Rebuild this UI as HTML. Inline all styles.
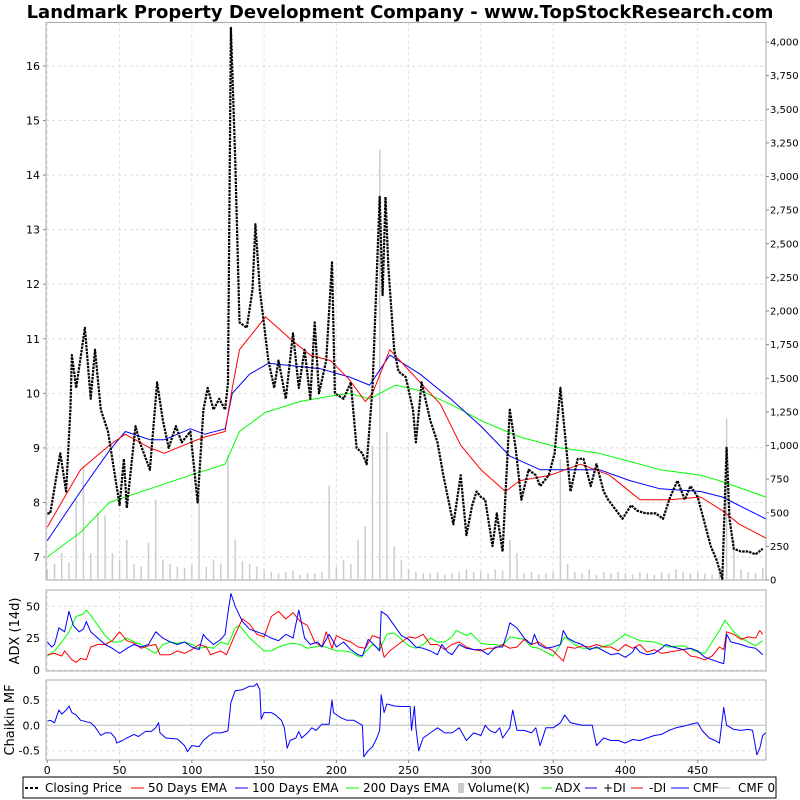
<!DOCTYPE html>
<html><head><meta charset="utf-8"><style>
html,body{margin:0;padding:0;background:#fff;}
svg{display:block;font-family:"DejaVu Sans","Liberation Sans",sans-serif;}
</style></head><body>
<svg id="chart" width="800" height="800" viewBox="0 0 800 800" xmlns="http://www.w3.org/2000/svg">
<rect x="0" y="0" width="800" height="800" fill="#fff"/>
<text x="400" y="18" text-anchor="middle" font-size="18" font-weight="bold" fill="#000">Landmark Property Development Company - www.TopStockResearch.com</text>
<g id="main"></g><g id="adx"></g><g id="cmf"></g><g id="xaxis"></g>
<g id="legend">
<rect x="23" y="777" width="753" height="21" fill="#fff" stroke="#000" stroke-width="1"/>
<line x1="25" y1="788" x2="40" y2="788" stroke="#000" stroke-width="2" stroke-dasharray="3,2"/>
<text x="45" y="792" font-size="12">Closing Price</text>
<line x1="131" y1="788" x2="144" y2="788" stroke="#f00"/>
<text x="148" y="792" font-size="12">50 Days EMA</text>
<line x1="235" y1="788" x2="248" y2="788" stroke="#00f"/>
<text x="252" y="792" font-size="12">100 Days EMA</text>
<line x1="346" y1="788" x2="359" y2="788" stroke="#0f0"/>
<text x="363" y="792" font-size="12">200 Days EMA</text>
<rect x="458" y="783" width="6" height="10" fill="#ccc"/>
<text x="468" y="792" font-size="12">Volume(K)</text>
<line x1="541" y1="788" x2="552" y2="788" stroke="#0f0"/>
<text x="555" y="792" font-size="12">ADX</text>
<line x1="585" y1="788" x2="597" y2="788" stroke="#00f"/>
<text x="603" y="792" font-size="12">+DI</text>
<line x1="631" y1="788" x2="643" y2="788" stroke="#f00"/>
<text x="649" y="792" font-size="12">-DI</text>
<line x1="671" y1="788" x2="689" y2="788" stroke="#00f"/>
<text x="693" y="792" font-size="12">CMF</text>
<line x1="717" y1="788" x2="730" y2="788" stroke="#bbb"/>
<text x="738" y="792" font-size="12">CMF 0</text>
</g>
</svg>
<script>
const priceDays=[0,2,9,13,16,17,20,26,30,33,37,42,50,53,55,61,64,71,76,80,84,89,93,99,104,108,111,115,119,123,125,127,130,133,138,142,144,147,153,157,160,165,170,174,178,182,185,188,193,197,199,205,210,214,218,221,225,230,232,234,236,240,243,248,253,255,259,265,270,274,281,286,290,294,297,300,303,308,311,315,320,324,328,333,338,341,347,351,355,358,362,367,371,376,380,385,388,398,404,408,414,421,426,431,436,441,445,450,454,459,463,467,470,472,475,480,485,490,495];
const priceVals=[7.8,7.8,8.9,8.2,9.7,10.7,10.1,11.2,9.9,10.8,9.7,9.3,7.95,8.8,7.9,9.4,9.1,8.6,10.2,9.5,9.0,9.4,9.1,9.3,8.0,9.7,10.1,9.7,9.9,9.7,10.2,16.7,14.3,11.3,11.2,11.9,13.1,11.9,10.6,10.1,10.6,9.9,11.1,10.1,10.8,9.9,11.3,10.0,10.6,12.4,10.0,9.9,10.2,9.0,8.9,8.7,10.1,13.6,11.8,13.6,12.3,10.8,10.4,10.3,9.7,9.1,10.2,9.5,9.1,8.5,7.6,8.5,7.4,7.95,8.2,8.1,8.05,7.2,7.8,7.1,9.7,9.0,8.05,8.6,8.5,8.3,8.5,8.9,10.1,9.3,8.2,8.8,8.8,8.3,8.7,8.2,8.05,7.7,7.95,7.85,7.8,7.8,7.7,8.1,8.4,8.05,8.3,8.1,7.7,7.2,6.95,6.6,9.0,7.7,7.15,7.1,7.1,7.05,7.15];
const ema50Days=[0,23,43,54,71,81,99,109,123,128,133,151,168,182,196,209,220,225,237,251,272,286,300,317,327,348,369,389,410,431,452,467,479,497];
const ema50Vals=[7.55,8.6,9.05,9.25,9.0,8.9,9.1,9.2,9.3,10.1,10.8,11.4,11.0,10.7,10.6,10.25,9.85,10.0,10.8,10.4,9.8,9.05,8.6,8.2,8.4,8.5,8.7,8.5,8.05,8.05,8.1,7.85,7.6,7.35];
const ema100Days=[0,23,43,54,71,81,99,109,123,128,140,153,171,189,209,223,237,258,279,300,320,341,362,382,403,424,452,467,497];
const ema100Vals=[7.3,8.2,8.95,9.3,9.15,9.15,9.35,9.25,9.35,10.0,10.35,10.55,10.5,10.45,10.3,10.15,10.7,10.35,9.9,9.4,8.85,8.6,8.6,8.6,8.4,8.25,8.2,8.1,7.7];
const ema200Days=[0,23,43,71,99,123,133,151,175,196,209,223,241,258,279,300,327,355,382,403,424,452,465,497];
const ema200Vals=[7.0,7.45,8.0,8.25,8.5,8.7,9.3,9.65,9.85,9.95,10.0,9.9,10.15,10.05,9.8,9.5,9.2,9.0,8.9,8.75,8.6,8.5,8.4,8.1];
const volDays=[0,5,10,15,20,25,30,35,40,45,50,55,60,65,70,75,80,85,90,95,100,105,110,115,120,125,130,135,140,145,150,155,160,165,170,175,180,185,190,195,200,205,210,215,220,225,230,235,240,245,250,255,260,265,270,275,280,285,290,295,300,305,310,315,320,325,330,335,340,345,350,355,360,365,370,375,380,385,390,395,400,405,410,415,420,425,430,435,440,445,450,455,460,465,470,475,480,485,490,495];
const volVals=[80,120,200,130,600,850,200,500,480,200,150,300,120,100,280,600,150,120,100,90,110,650,100,150,120,930,300,140,120,100,80,60,50,60,70,40,50,50,60,700,100,150,120,300,400,1000,3200,1100,250,150,80,60,50,50,60,40,50,60,80,60,60,50,80,70,300,200,50,60,40,50,60,900,120,60,50,80,40,60,50,60,50,40,60,50,40,60,50,80,60,50,60,50,40,80,1200,300,80,60,50,90];
const adxDays=[0,5,10,15,20,25,27,30,35,40,45,50,55,60,65,70,75,80,85,90,95,100,105,110,115,120,125,130,133,140,145,150,155,160,165,170,175,180,185,190,195,200,205,210,215,217,220,225,230,235,240,245,250,255,260,265,270,275,280,283,290,293,300,305,310,315,320,330,335,340,350,355,358,365,370,380,390,400,410,420,430,440,450,455,460,465,469,475,480,490,495];
const adxVals=[11,15,22,30,42,44,47,43,35,27,22,22,25,22,20,16,13,20,22,21,22,20,17,18,17,22,20,33,35,25,20,15,15,18,20,21,20,17,18,19,17,15,15,14,11,10,14,20,16,28,29,24,19,17,20,25,22,22,26,31,27,29,21,20,20,19,26,24,18,17,11,20,26,20,17,17,20,28,23,22,18,19,14,13,22,31,39,30,25,19,23];
const pdiDays=[0,3,5,8,12,15,18,22,25,27,30,35,40,45,50,55,60,65,70,75,80,85,90,95,100,105,108,110,115,120,123,125,127,130,135,140,145,150,155,160,165,170,174,178,182,187,190,195,200,205,210,215,218,222,226,230,231,235,240,245,250,255,260,265,270,273,277,280,285,290,295,300,305,310,315,318,320,325,330,335,337,340,345,350,355,357,360,365,370,375,380,385,390,395,400,405,407,410,415,420,425,428,433,440,445,450,455,460,465,468,470,473,480,485,490,495];
const pdiVals=[22,18,20,33,30,46,35,30,32,38,30,25,20,17,13,17,20,18,20,30,25,22,20,22,18,16,28,25,20,24,28,45,60,50,38,32,30,28,25,23,28,25,47,25,20,22,18,28,18,22,16,12,11,24,20,15,46,43,35,27,24,18,17,15,12,20,14,12,20,17,16,16,12,18,18,28,37,33,25,20,28,20,17,18,20,31,25,22,20,16,18,15,12,13,10,14,18,14,12,13,17,20,18,16,17,15,10,8,6,5,28,22,20,18,17,12];
const mdiDays=[0,5,10,12,17,20,23,27,30,35,40,45,50,55,60,65,70,75,78,85,90,95,100,105,110,113,120,124,130,135,140,145,150,155,160,165,170,175,180,185,190,193,197,200,205,210,215,220,225,230,233,237,245,250,255,260,265,270,275,280,285,290,295,300,305,310,315,320,325,330,335,340,345,350,357,360,365,370,375,380,385,390,395,400,405,410,415,420,425,430,440,445,450,455,460,465,468,470,475,480,485,490,493,495];
const mdiVals=[12,13,11,15,8,6,9,8,18,20,20,23,30,23,21,17,19,20,12,12,15,13,16,20,18,12,15,12,28,40,36,28,26,42,46,40,45,38,35,22,18,30,17,27,24,22,18,17,27,25,10,15,22,26,25,28,20,20,16,20,22,18,16,15,17,17,20,17,18,24,20,22,18,15,7,18,17,19,18,20,18,18,15,20,17,20,14,16,13,14,16,11,10,8,11,18,16,30,28,24,26,25,31,28];
const cmfDays=[0,2,5,8,10,13,15,17,20,23,27,30,33,37,40,44,47,48,52,55,60,63,68,72,75,77,78,82,90,95,97,100,105,108,112,115,120,124,125,127,130,135,140,143,145,147,148,150,155,158,162,164,166,168,172,174,176,180,183,186,190,195,197,198,203,207,212,215,218,219,222,225,228,230,231,233,235,240,245,250,251,252,254,255,257,260,265,270,275,280,285,290,295,300,303,306,310,313,315,320,322,325,330,335,338,341,345,350,355,358,362,370,377,380,385,390,395,400,405,410,415,420,425,430,435,440,445,450,453,458,462,465,468,470,475,480,485,488,491,493,495,497];
const cmfVals=[0.08,0.1,0.05,0.3,0.22,0.3,0.38,0.25,0.2,0.1,0.07,0.05,-0.03,-0.2,-0.15,-0.15,-0.25,-0.35,-0.3,-0.25,-0.18,-0.22,-0.12,-0.12,-0.05,0.05,-0.15,-0.25,-0.27,-0.4,-0.52,-0.4,-0.42,-0.3,-0.2,-0.15,-0.15,-0.12,-0.1,0.45,0.68,0.7,0.77,0.77,0.82,0.7,0.12,0.25,0.25,0.2,0.1,-0.05,-0.45,-0.3,-0.25,-0.12,-0.25,-0.15,-0.05,-0.1,0.02,0.02,0.5,0.25,0.15,0.1,0.1,0.05,0.0,-0.62,-0.5,-0.42,-0.25,-0.1,0.6,0.25,0.42,0.38,0.37,0.37,0.37,-0.1,0.37,-0.05,-0.5,-0.25,-0.15,-0.05,-0.15,-0.15,-0.05,-0.3,-0.15,-0.2,0.0,-0.1,-0.15,-0.05,-0.25,-0.05,0.3,-0.1,-0.1,-0.15,-0.05,-0.4,-0.05,-0.05,0.05,0.2,0.05,0.0,0.0,-0.4,-0.25,-0.3,-0.3,-0.35,-0.28,-0.3,-0.25,-0.2,-0.18,-0.1,-0.05,-0.02,0.02,0.05,-0.1,-0.25,-0.3,-0.35,0.35,0.0,-0.08,-0.1,-0.08,-0.1,-0.58,-0.45,-0.2,-0.15];
const xTicks=[0,50,100,150,200,250,300,350,400,450];
const priceTicks=[7,8,9,10,11,12,13,14,15,16];
const volTicks=[0,250,500,750,1000,1250,1500,1750,2000,2250,2500,2750,3000,3250,3500,3750,4000];
const adxTicks=[0,25,50];
const cmfTicks=[-0.5,0,0.5];

const NS='http://www.w3.org/2000/svg';
const L=46,R=766;
const X=d=>47.3+d*1.4453;
const Yp=p=>557-(p-7)*54.56;
const Yv=v=>580-v*0.1345;
const Ya=v=>670-v*1.275;
const Yc=v=>725.3-v*50.8;
function mk(parent,tag,attrs){const e=document.createElementNS(NS,tag);for(const k in attrs)e.setAttribute(k,attrs[k]);parent.appendChild(e);return e;}
function path(days,vals,yf){return days.map((d,i)=>(i?'L':'M')+X(d).toFixed(1)+','+yf(vals[i]).toFixed(1)).join('');}

const main=document.getElementById('main');
const adx=document.getElementById('adx');
const cmf=document.getElementById('cmf');
const xa=document.getElementById('xaxis');

function panel(g,top,bot,name){
  const r=mk(g,'rect',{x:L,y:top,width:R-L,height:bot-top,fill:'#fff',stroke:'#aaa'});
  
  
  xTicks.forEach(t=>{const l=mk(g,'line',{x1:X(t),x2:X(t),y1:top,y2:bot,stroke:'#ddd','stroke-dasharray':'3,3'});
    
    });
}
panel(main,22.5,580,'price-panel');
panel(adx,590,671,'adx-panel');
panel(cmf,680,760,'cmf-panel');

priceTicks.forEach(t=>{
  const l=mk(main,'line',{x1:L,x2:R,y1:Yp(t),y2:Yp(t),stroke:'#ddd','stroke-dasharray':'3,3'});
  
  
  const tx=mk(main,'text',{x:40,y:Yp(t)+4,'text-anchor':'end','font-size':11});
  tx.textContent=t;
  
  
  mk(main,'line',{x1:L-3,x2:L,y1:Yp(t),y2:Yp(t),stroke:'#888'});
});
volTicks.forEach(t=>{
  const tx=mk(main,'text',{x:770,y:Yv(t)+3.5,'font-size':10});
  tx.textContent=t.toLocaleString('en-US');
  
  
  mk(main,'line',{x1:R,x2:R+3,y1:Yv(t),y2:Yv(t),stroke:'#888'});
});
volDays.forEach((d,i)=>{
  const b=mk(main,'rect',{x:X(d)-0.75,y:Yv(volVals[i]),width:1.5,height:580-Yv(volVals[i]),fill:'#ccc'});
  
  
});
function line(g,days,vals,yf,color,w,name,dash){
  const p=mk(g,'path',{d:path(days,vals,yf),fill:'none',stroke:color,'stroke-width':w,'stroke-linejoin':'round'});
  if(dash)p.setAttribute('stroke-dasharray',dash);
  
  
}
line(main,ema200Days,ema200Vals,Yp,'#0f0',1,'ema200-line');
line(main,ema100Days,ema100Vals,Yp,'#00f',1,'ema100-line');
line(main,ema50Days,ema50Vals,Yp,'#f00',1,'ema50-line');
line(main,priceDays,priceVals,Yp,'#000',2.2,'closing-price-line','2.5,1');

adxTicks.forEach(t=>{
  const l=mk(adx,'line',{x1:L,x2:R,y1:Ya(t),y2:Ya(t),stroke:'#ddd','stroke-dasharray':'3,3'});
  
  
  const tx=mk(adx,'text',{x:40,y:Ya(t)+4,'text-anchor':'end','font-size':11});
  tx.textContent=t;
  
  
});
line(adx,adxDays,adxVals,Ya,'#0f0',1,'adx-line');
line(adx,mdiDays,mdiVals,Ya,'#f00',1,'minus-di-line');
line(adx,pdiDays,pdiVals,Ya,'#00f',1,'plus-di-line');
const at=mk(adx,'text',{x:0,y:0,'font-size':13,'text-anchor':'middle',transform:'translate(19,631) rotate(-90)'});
at.textContent='ADX (14d)';



cmfTicks.forEach(t=>{
  const l=mk(cmf,'line',t===0?{x1:L,x2:R,y1:Yc(t),y2:Yc(t),stroke:'#bbb'}:{x1:L,x2:R,y1:Yc(t),y2:Yc(t),stroke:'#ddd','stroke-dasharray':'3,3'});
  
  
  const tx=mk(cmf,'text',{x:40,y:Yc(t)+4,'text-anchor':'end','font-size':11});
  tx.textContent=t.toFixed(1);
  
  
});
line(cmf,cmfDays,cmfVals,Yc,'#00f',1,'cmf-line');
const ct=mk(cmf,'text',{x:0,y:0,'font-size':13,'text-anchor':'middle',transform:'translate(14,720) rotate(-90)'});
ct.textContent='Chaikin MF';



xTicks.forEach(t=>{
  mk(xa,'line',{x1:X(t),x2:X(t),y1:760,y2:763,stroke:'#888'});
  const tx=mk(xa,'text',{x:X(t),y:774,'text-anchor':'middle','font-size':11});
  tx.textContent=t;
  
  
});
</script>
</body></html>
